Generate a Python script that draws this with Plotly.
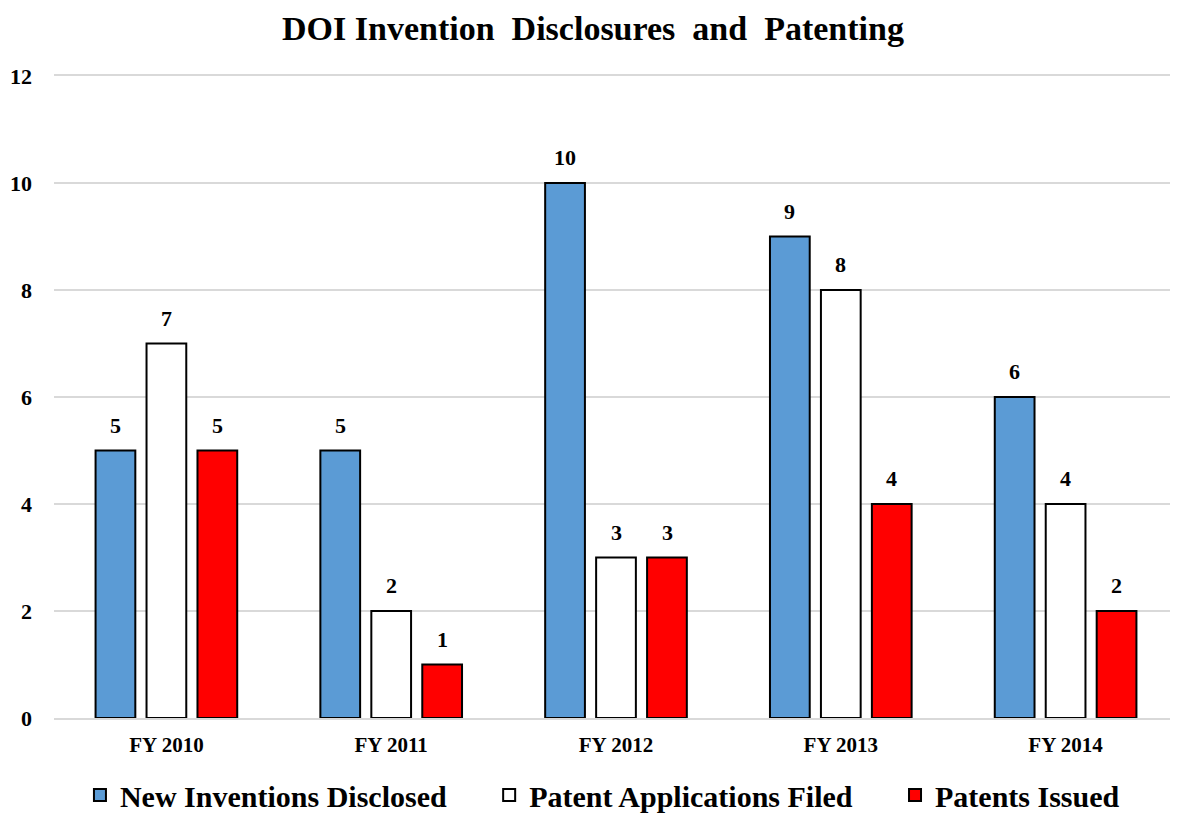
import plotly.graph_objects as go

categories = ["FY 2010", "FY 2011", "FY 2012", "FY 2013", "FY 2014"]
new_inventions = [5, 5, 10, 9, 6]
patent_apps = [7, 2, 3, 8, 4]
patents_issued = [5, 1, 3, 4, 2]

series = [
    ("New Inventions Disclosed", new_inventions, "#5B9BD5"),
    ("Patent Applications Filed", patent_apps, "#FFFFFF"),
    ("Patents Issued", patents_issued, "#FF0000"),
]

FONT = "Liberation Serif"
SLOT_PX = 51  # pixel offset between bars in a group
LEGEND_PAD = "&nbsp;" * 5  # extra spacing between legend entries

fig = go.Figure()
annotations = []
for i, (name, vals, color) in enumerate(series):
    fig.add_trace(go.Bar(
        x=categories, y=vals, name=name + LEGEND_PAD,
        marker=dict(color=color, line=dict(color="#000000", width=2)),
    ))
    for c, v in zip(categories, vals):
        annotations.append(dict(
            x=c, y=v, text=f"<b>{v}</b>", showarrow=False,
            xref="x", yref="y", yanchor="bottom",
            xshift=(i - 1) * SLOT_PX, yshift=11,
            font=dict(family=FONT, size=22, color="#000000"),
        ))

fig.update_layout(
    width=1170, height=808,
    paper_bgcolor="white", plot_bgcolor="white",
    margin=dict(l=46, r=0, t=68, b=98, autoexpand=False),
    barmode="group", bargap=0.32, bargroupgap=0.22,
    title=dict(text="<b>DOI Invention&nbsp; Disclosures&nbsp; and&nbsp; Patenting</b>",
               x=0.5, xanchor="center", xref="container",
               y=1.0, yanchor="top", yref="container", pad=dict(t=8, b=0),
               font=dict(family=FONT, size=34, color="#000000")),
    font=dict(family=FONT, color="#000000"),
    annotations=annotations,
    legend=dict(orientation="h", xref="container", yref="paper",
                x=0.0615, xanchor="left", y=-77 / 642, yanchor="middle",
                font=dict(family=FONT, size=30, color="#000000", weight="bold"),
                itemwidth=30, traceorder="normal"),
    xaxis=dict(showline=True, mirror=True, linecolor="#D9D9D9", linewidth=2,
               showgrid=False, ticks="",
               tickfont=dict(family=FONT, size=21, color="#000000", weight="bold"),
               ticklabelstandoff=7),
    yaxis=dict(range=[0, 12], dtick=2, showgrid=True, gridcolor="#D9D9D9", gridwidth=2,
               zeroline=False, showline=False,
               ticks="", ticklabelstandoff=21,
               tickfont=dict(family=FONT, size=22, color="#000000", weight="bold")),
)

fig.write_html("out.html")
